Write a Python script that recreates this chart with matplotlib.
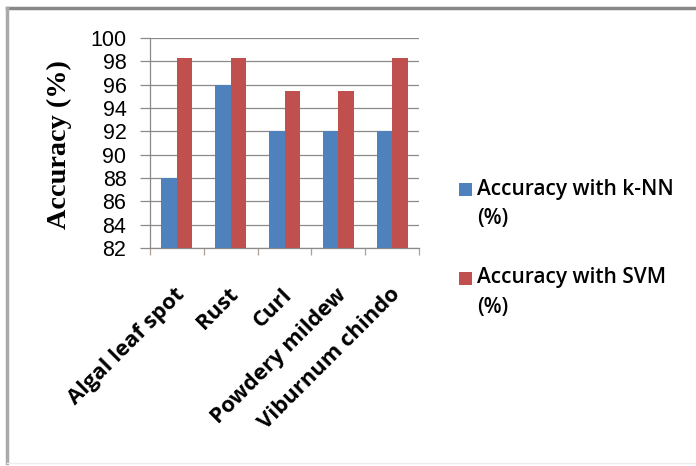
import matplotlib
matplotlib.use("Agg")
import matplotlib.pyplot as plt
import numpy as np
from matplotlib.patches import Rectangle
from matplotlib.lines import Line2D

categories = ["Algal leaf spot", "Rust", "Curl", "Powdery mildew", "Viburnum chindo"]
knn = [88, 96, 92, 92, 92]
svm = [98.3, 98.3, 95.5, 95.5, 98.3]
series_names = ["Accuracy with k-NN\n(%)", "Accuracy with SVM\n(%)"]
yticks = list(range(82, 101, 2))

blue = "#4F81BD"
red = "#C0504D"

fig = plt.figure(figsize=(6.96, 4.66), dpi=100)
ax = fig.add_axes([150/696, 1-248/466, (419-150)/696, (248-38)/466])

x = np.arange(len(categories))
w = 0.288
ax.bar(x - w/2, knn, width=w, color=blue, zorder=3)
ax.bar(x + w/2, svm, width=w, color=red, zorder=3)

ax.set_xlim(-0.5, len(categories) - 0.5)
ax.set_ylim(82, 100)
ax.set_yticks(yticks)
ax.set_yticklabels([str(t) for t in yticks], fontsize=15.5, family="Liberation Sans")
ax.yaxis.grid(True, color="#8a8a8a", linewidth=0.9, zorder=0)
ax.tick_params(axis="y", length=7, color="#8a8a8a", pad=10, width=0.9)

# category boundary ticks
ax.set_xticks(np.arange(-0.5, len(categories), 1.0), minor=False)
ax.set_xticklabels([""] * (len(categories) + 1))
ax.tick_params(axis="x", length=5, color="#b0a090", width=0.9)
for i, c in enumerate(categories):
    ax.text(i - 0.05, 78.9, c, rotation=45, ha="right", va="top",
            fontsize=15.8, fontweight="bold", family="Open Sans",
            rotation_mode="anchor", transform=ax.transData)

for s in ["top", "right"]:
    ax.spines[s].set_visible(False)
ax.spines["left"].set_color("#8a8a8a")
ax.spines["bottom"].set_color("#8a8a8a")
ax.spines["left"].set_linewidth(0.9)
ax.spines["bottom"].set_linewidth(0.9)

fig.text(59/696, 1-145/466, "Accuracy (%)", rotation=90, ha="center", va="center",
         fontsize=20.3, fontweight="bold", family="Liberation Serif")

# legend
for j, (name, col) in enumerate(zip(series_names, [blue, red])):
    yc = 1 - (189 + j*89)/466
    fig.patches.append(Rectangle((459/696, yc - 6.5/466), 13/696, 13/466, transform=fig.transFigure,
                                 facecolor=col, edgecolor="none"))
    fig.text(477/696, yc, name.split("\n")[0], ha="left", va="center",
             fontsize=15, family="Open Sans", fontweight="semibold")
    fig.text(477/696, yc - 30/466, name.split("\n")[1], ha="left", va="center",
             fontsize=15, family="Open Sans", fontweight="semibold")

# outer border
fig.add_artist(Line2D([7/696, 696/696], [1-8/466, 1-8/466], transform=fig.transFigure, color="#888888", lw=2.5))
fig.add_artist(Line2D([7/696, 7/696], [1-8/466, 1-463/466], transform=fig.transFigure, color="#aaaaaa", lw=2.5))
fig.add_artist(Line2D([7/696, 696/696], [1-463/466, 1-463/466], transform=fig.transFigure, color="#eeeeee", lw=1))

fig.savefig("out.png", dpi=100)
